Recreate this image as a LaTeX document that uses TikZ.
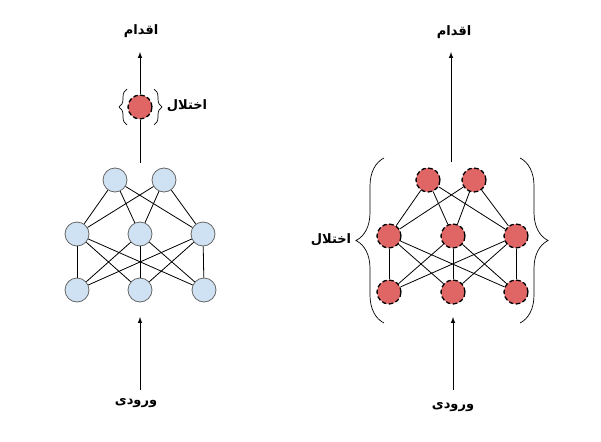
\documentclass[tikz,border=0pt]{standalone}
\usepackage{fontspec}
\usepackage{xcolor}
\usepackage{tikz}
\usetikzlibrary{arrows,positioning,decorations.pathreplacing,calc}
\newfontfamily\arabicfont[Script=Arabic]{DejaVu Sans}
\TeXXeTstate=1
\definecolor{neuronblue}{HTML}{CFE2F3}
\definecolor{neuronred}{HTML}{E06666}
\definecolor{neurongray}{HTML}{666666}
\newcommand{\fatext}[1]{{\arabicfont\bfseries\beginR #1\endR}}
\tikzset{
	cleannode/.style={circle,draw=neurongray,fill=neuronblue,line width=0.8pt,minimum size=24pt,inner sep=0pt},
	noisynode/.style={circle,draw=black,fill=neuronred,line width=1.3pt,dash pattern=on 4.5pt off 2.5pt,minimum size=24pt,inner sep=0pt},
	falabel/.style={font=\fontsize{13}{15}\selectfont,inner sep=1pt},
	bracket/.style={line width=0.7pt,decorate}
}
\begin{document}
\begin{tikzpicture}[x=1pt,y=-1pt]
	\useasboundingbox (0,0) rectangle (601,441);
	% left network
	\node[cleannode] (la1) at (77,290) {};
	\node[cleannode] (la2) at (140,290) {};
	\node[cleannode] (la3) at (204,290) {};
	\node[cleannode] (lb1) at (77,234) {};
	\node[cleannode] (lb2) at (140,234) {};
	\node[cleannode] (lb3) at (203,234) {};
	\node[cleannode] (lc1) at (115,180) {};
	\node[cleannode] (lc2) at (164,180) {};
	\foreach \a in {la1,la2,la3}
		\foreach \b in {lb1,lb2,lb3}
			\draw[line width=0.8pt] (\a) -- (\b);
	\foreach \a in {lb1,lb2,lb3}
		\foreach \b in {lc1,lc2}
			\draw[line width=0.8pt] (\a) -- (\b);
	\node[noisynode] (lnoise) at (140,107) {};
	\node[falabel] (lnoiselabel) at (187,106) {\fatext{اختلال}};
	\draw[bracket,decoration={brace,amplitude=8pt}] (127,125) -- (127,89);
	\draw[bracket,decoration={brace,amplitude=8pt}] (154,89) -- (154,125);
	\coordinate (lout) at (140,163);
	\coordinate (lacttip) at (140,52);
	\coordinate (lin) at (140,390);
	\coordinate (lintip) at (140,317);
	\node[falabel] (lact) at (141,31) {\fatext{اقدام}};
	\node[falabel] (linput) at (136,403) {\fatext{ورودی}};
	\draw[line width=1pt] (lout) -- (lnoise);
	\draw[-latex,line width=1pt] (lnoise) -- (lacttip);
	\draw[-latex,line width=1pt] (lin) -- (lintip);
	% right network
	\node[noisynode] (ra1) at (389,292) {};
	\node[noisynode] (ra2) at (453,292) {};
	\node[noisynode] (ra3) at (516,292) {};
	\node[noisynode] (rb1) at (389,236) {};
	\node[noisynode] (rb2) at (453,236) {};
	\node[noisynode] (rb3) at (516,236) {};
	\node[noisynode] (rc1) at (428,180) {};
	\node[noisynode] (rc2) at (474,180) {};
	\foreach \a in {ra1,ra2,ra3}
		\foreach \b in {rb1,rb2,rb3}
			\draw[line width=0.8pt] (\a) -- (\b);
	\foreach \a in {rb1,rb2,rb3}
		\foreach \b in {rc1,rc2}
			\draw[line width=0.8pt] (\a) -- (\b);
	\draw[bracket,decoration={brace,amplitude=28pt}] (384,323) -- (384,158);
	\draw[bracket,decoration={brace,amplitude=28pt}] (520,158) -- (520,323);
	\node[falabel] (rnoiselabel) at (331,240) {\fatext{اختلال}};
	\coordinate (rout) at (451,162);
	\coordinate (racttip) at (451,52);
	\coordinate (rin) at (453,390);
	\coordinate (rintip) at (453,317);
	\node[falabel] (ract) at (454,32) {\fatext{اقدام}};
	\node[falabel] (rinput) at (453,407) {\fatext{ورودی}};
	\draw[-latex,line width=1pt] (rout) -- (racttip);
	\draw[-latex,line width=1pt] (rin) -- (rintip);
\end{tikzpicture}
\end{document}
